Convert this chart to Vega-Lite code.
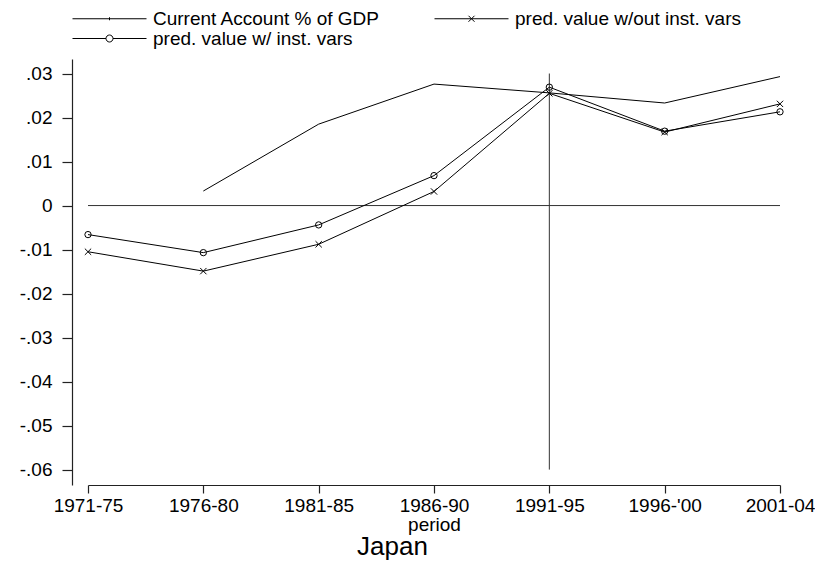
{
  "$schema": "https://vega.github.io/schema/vega-lite/v6.json",
  "width": 733,
  "height": 426,
  "autosize": {"type": "none"},
  "padding": {"left": 72, "top": 59, "right": 10, "bottom": 79},
  "background": "white",
  "config": {
    "font": "Liberation Sans",
    "view": {"stroke": null},
    "axis": {"grid": false, "labelFont": "Liberation Sans", "titleFont": "Liberation Sans", "labelColor": "black", "titleColor": "black", "domainColor": "#222", "tickColor": "#222", "domainWidth": 1.2, "tickWidth": 1.2}
  },
  "title": {"text": "Japan", "orient": "bottom", "anchor": "middle", "fontSize": 26, "fontWeight": "normal", "font": "Liberation Sans", "color": "black", "dx": -46, "offset": 0},
  "datasets": {
    "main": [
      {"period": "1976-80", "series": "Current Account % of GDP", "value": 0.0033},
      {"period": "1981-85", "series": "Current Account % of GDP", "value": 0.0185},
      {"period": "1986-90", "series": "Current Account % of GDP", "value": 0.0276},
      {"period": "1991-95", "series": "Current Account % of GDP", "value": 0.0256},
      {"period": "1996-'00", "series": "Current Account % of GDP", "value": 0.0233},
      {"period": "2001-04", "series": "Current Account % of GDP", "value": 0.0293},
      {"period": "1971-75", "series": "pred. value w/out inst. vars", "value": -0.0105},
      {"period": "1976-80", "series": "pred. value w/out inst. vars", "value": -0.0149},
      {"period": "1981-85", "series": "pred. value w/out inst. vars", "value": -0.0088},
      {"period": "1986-90", "series": "pred. value w/out inst. vars", "value": 0.0032},
      {"period": "1991-95", "series": "pred. value w/out inst. vars", "value": 0.0255},
      {"period": "1996-'00", "series": "pred. value w/out inst. vars", "value": 0.0167},
      {"period": "2001-04", "series": "pred. value w/out inst. vars", "value": 0.0231},
      {"period": "1971-75", "series": "pred. value w/ inst. vars", "value": -0.0066},
      {"period": "1976-80", "series": "pred. value w/ inst. vars", "value": -0.0107},
      {"period": "1981-85", "series": "pred. value w/ inst. vars", "value": -0.0044},
      {"period": "1986-90", "series": "pred. value w/ inst. vars", "value": 0.0068},
      {"period": "1991-95", "series": "pred. value w/ inst. vars", "value": 0.0269},
      {"period": "1996-'00", "series": "pred. value w/ inst. vars", "value": 0.0169},
      {"period": "2001-04", "series": "pred. value w/ inst. vars", "value": 0.0213}
    ]
  },
  "encoding": {
    "x": {
      "field": "period", "type": "ordinal",
      "scale": {"type": "point", "domain": ["1971-75", "1976-80", "1981-85", "1986-90", "1991-95", "1996-'00", "2001-04"], "range": [16, 708], "padding": 0},
      "axis": {"title": "period", "labelAngle": 0, "tickSize": 8, "labelPadding": 3, "labelFontSize": 19, "titleFontSize": 19, "titleFontWeight": "normal", "titlePadding": 0, "labelFlush": false}
    },
    "y": {
      "field": "value", "type": "quantitative",
      "scale": {"domain": [-0.0635, 0.0333], "nice": false, "zero": false},
      "axis": {"title": null, "values": [-0.06, -0.05, -0.04, -0.03, -0.02, -0.01, 0, 0.01, 0.02, 0.03], "labelExpr": "datum.value == 0 ? '0' : replace(replace(format(datum.value, '.2f'), '0.', '.'), '\u2212', '-')", "tickSize": 10, "labelPadding": 10, "labelFontSize": 19}
    }
  },
  "layer": [
    {
      "data": {"values": [{"period": "1971-75", "period2": "2001-04", "v": 0}]},
      "mark": {"type": "rule", "color": "#333", "strokeWidth": 1},
      "encoding": {"x": {"field": "period", "type": "ordinal"}, "x2": {"field": "period2"}, "y": {"field": "v", "type": "quantitative"}}
    },
    {
      "data": {"values": [{"period": "1991-95", "v": 0.03, "v2": -0.06}]},
      "mark": {"type": "rule", "color": "#333", "strokeWidth": 1},
      "encoding": {"x": {"field": "period", "type": "ordinal"}, "y": {"field": "v", "type": "quantitative"}, "y2": {"field": "v2"}}
    },
    {
      "data": {"name": "main"},
      "mark": {"type": "line", "color": "black", "strokeWidth": 1},
      "encoding": {"detail": {"field": "series"}}
    },
    {
      "data": {"name": "main"},
      "transform": [{"filter": "datum.series == 'pred. value w/out inst. vars'"}],
      "mark": {"type": "point", "shape": "M-1,-1L1,1M-1,1L1,-1", "filled": false, "color": "black", "strokeWidth": 1, "size": 40, "opacity": 1}
    },
    {
      "data": {"name": "main"},
      "transform": [{"filter": "datum.series == 'pred. value w/ inst. vars'"}],
      "mark": {"type": "point", "shape": "circle", "filled": false, "color": "black", "strokeWidth": 1, "size": 40, "opacity": 1}
    },
    {
      "data": {"name": "main"},
      "mark": {"type": "point", "filled": false, "color": "black", "opacity": 0},
      "encoding": {
        "shape": {
          "field": "series", "type": "nominal",
          "scale": {"domain": ["Current Account % of GDP", "pred. value w/ inst. vars", "pred. value w/out inst. vars"],
                    "range": ["M-7.4,0H7.4M0,-0.3V0.3", "M-7.4,0H-0.7M0.7,0H7.4M0.7,0A0.7,0.7,0,1,1,-0.7,0A0.7,0.7,0,1,1,0.7,0", "M-7.4,0H7.4M-0.6,-0.6L0.6,0.6M-0.6,0.6L0.6,-0.6"]},
          "legend": {"title": null, "orient": "none", "legendX": 0, "legendY": -50, "columns": 2, "columnPadding": 51, "rowPadding": 0, "symbolSize": 100, "symbolOffset": 28, "symbolOpacity": 1, "symbolStrokeColor": "black", "symbolFillColor": "transparent", "symbolStrokeWidth": 1, "labelFontSize": 19, "labelFont": "Liberation Sans", "labelColor": "black", "labelOffset": 34, "labelLimit": 400}
        }
      }
    }
  ]
}
